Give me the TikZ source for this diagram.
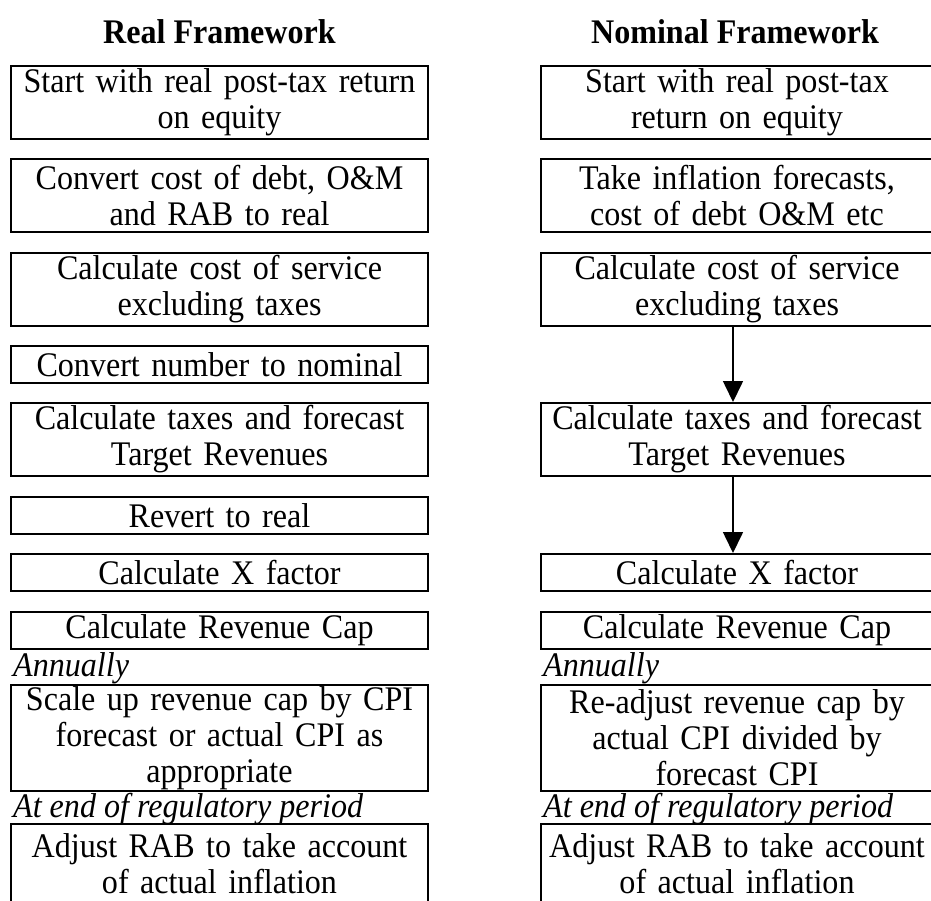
\documentclass[tikz,border=0pt]{standalone}
\usepackage{fontspec}
\setmainfont{Liberation Serif}[FakeStretch=0.93]
\usetikzlibrary{arrows.meta}
\begin{document}
\begin{tikzpicture}[x=1pt,y=-1pt,every node/.style={font=\fontsize{34.5}{36}\selectfont},
  rbox/.style={draw,line width=1.6pt,inner xsep=0pt,inner ysep=0pt,text width=417pt,align=center,anchor=north},
  nbox/.style={rbox,text width=392pt},
  one/.style={minimum height=37pt},two/.style={minimum height=73pt},three/.style={minimum height=106pt},
  lbl/.style={anchor=north west,inner sep=0pt,font=\fontsize{34.5}{36}\selectfont\itshape},
  ttl/.style={font=\fontsize{34.5}{36}\selectfont\bfseries},
  arr/.style={line width=1.6pt,-{Triangle[width=20pt,length=21pt]}}]
\useasboundingbox (0,0) rectangle (931,900);
\node[ttl] (rt) at (219.5,32) {Real Framework}; \node[ttl] (nt) at (735,32) {Nominal Framework};
% real column
\node[rbox,two] (r1) at (219.5,65) {Start with real post-tax return\\on equity};
\node[rbox,two] (r2) at (219.5,158) {Convert cost of debt, O\&M\\and RAB to real};
\node[rbox,two] (r3) at (219.5,252) {Calculate cost of service\\excluding taxes};
\node[rbox,one] (r4) at (219.5,345) {Convert number to nominal};
\node[rbox,two] (r5) at (219.5,402) {Calculate taxes and forecast\\Target Revenues};
\node[rbox,one] (r6) at (219.5,496) {Revert to real};
\node[rbox,one] (r7) at (219.5,553) {Calculate X factor};
\node[rbox,one] (r8) at (219.5,611) {Calculate Revenue Cap};
\node[lbl] (ra) at (13,652) {Annually};
\node[rbox,three] (r9) at (219.5,684) {Scale up revenue cap by CPI\\forecast or actual CPI as\\appropriate};
\node[lbl] (re) at (13,793) {At end of regulatory period};
\node[rbox,minimum height=80pt] (r10) at (219.5,823) {Adjust RAB to take account\\of actual inflation};
% nominal column
\node[nbox,two] (n1) at (737,65) {Start with real post-tax\\return on equity};
\node[nbox,two] (n2) at (737,158) {Take inflation forecasts,\\cost of debt O\&M etc};
\node[nbox,two] (n3) at (737,252) {Calculate cost of service\\excluding taxes};
\node[nbox,two] (n5) at (737,402) {Calculate taxes and forecast\\Target Revenues};
\node[nbox,one] (n7) at (737,553) {Calculate X factor};
\node[nbox,one] (n8) at (737,611) {Calculate Revenue Cap};
\node[lbl] (na) at (543,652) {Annually};
\node[nbox,three] (n9) at (737,684) {Re-adjust revenue cap by\\actual CPI divided by\\forecast CPI};
\node[lbl] (ne) at (543,793) {At end of regulatory period};
\node[nbox,minimum height=80pt] (n10) at (737,823) {Adjust RAB to take account\\of actual inflation};
\draw[arr] ([xshift=-4pt]n3.south) -- ([xshift=-4pt]n5.north); \draw[arr] ([xshift=-4pt]n5.south) -- ([xshift=-4pt]n7.north);
\end{tikzpicture}
\end{document}
